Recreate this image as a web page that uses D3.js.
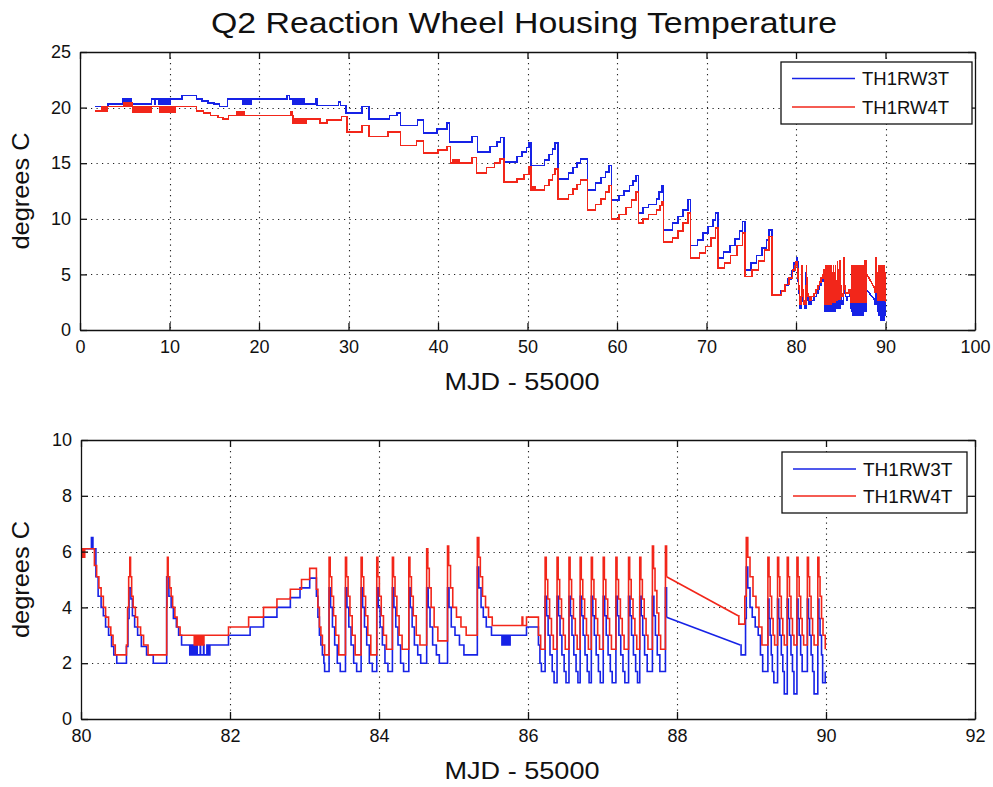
<!DOCTYPE html>
<html><head><meta charset="utf-8">
<script src="https://cdn.jsdelivr.net/npm/d3@7"></script>
<style>
body{margin:0;background:#fff;}
svg{display:block;}
text{font-family:"Liberation Sans",Arial,Helvetica,sans-serif;fill:#111;}
</style>
</head><body>
<svg id="chart" width="993" height="787"></svg>
<script>
// ---------------- data ----------------
const titleText = "Q2 Reaction Wheel Housing Temperature";
const xLabelText = "MJD - 55000";
const yLabelText = "degrees C";
const seriesNames = ["TH1RW3T", "TH1RW4T"];
const seriesColors = ["#1622e6", "#f2261a"];

const topXTicks = [0, 10, 20, 30, 40, 50, 60, 70, 80, 90, 100];
const topYTicks = [0, 5, 10, 15, 20, 25];
const botXTicks = [80, 82, 84, 86, 88, 90, 92];
const botYTicks = [0, 2, 4, 6, 8, 10];

// TH1RW3T, days 1.7 - 80 (sample held until next sample)
const rw3Early = [
[1.7,20.1],[3.1,20.3],[4.8,20.8],[4.9,20.3],[5.0,20.8],[5.1,20.3],[5.2,20.8],[5.3,20.3],[5.4,20.8],[5.5,20.3],[5.6,20.8],[5.7,20.3],
[8.0,20.8],[8.4,20.3],[8.45,20.8],[8.8,20.3],[8.85,20.8],[8.95,20.3],[9.05,20.8],[9.15,20.3],[9.25,20.8],[9.35,20.3],[9.45,20.8],[9.55,20.3],[9.65,20.8],[9.75,20.3],[9.85,20.8],[9.95,20.3],[10.05,20.8],
[11.4,21.1],[13.0,20.8],[13.6,20.6],[14.3,20.4],[15.0,20.3],[15.6,20.1],[16.5,20.8],
[18.2,20.3],[18.3,20.8],[18.4,20.3],[18.5,20.8],[18.6,20.3],[18.7,20.8],[18.8,20.3],[18.9,20.8],[19.0,20.3],[19.1,20.8],
[23.1,21.1],[23.4,20.8],[23.8,20.3],[23.9,20.8],[24.0,20.3],[24.1,20.8],[24.2,20.3],[24.3,20.8],[24.4,20.3],[24.5,20.8],[24.6,20.3],[24.7,20.8],[24.8,20.3],[24.9,20.8],[25.0,20.3],
[26.4,20.8],[26.5,20.2],[28.9,20.5],[29.1,20.2],[29.7,19.5],[31.5,20.1],[32.3,19.0],[34.6,19.3],[35.4,19.5],[35.8,18.4],[37.7,18.9],[38.4,17.7],[39.9,18.1],[41.0,18.6],[41.3,16.9],[43.8,17.4],[44.4,16.0],[45.8,16.5],[46.6,16.9],[47.0,17.3],
[47.4,15.1],[48.8,15.6],[49.4,16.0],[49.9,16.4],[50.2,16.8],[50.4,14.8],[51.9,15.3],[52.4,15.8],[52.8,16.3],[53.1,16.8],[53.4,13.6],[54.6,14.1],[55.1,14.6],[55.5,15.0],[55.9,15.4],
[56.7,12.6],[57.6,13.2],[58.2,13.7],[58.7,14.2],[59.1,14.8],[59.4,11.7],[60.2,12.1],[60.8,12.5],[61.4,13.0],[61.8,13.4],[62.1,13.9],[62.4,10.5],[62.9,11.0],[63.5,11.3],[64.4,11.8],[64.7,12.4],[65.0,13.0],
[65.2,9.0],[66.2,9.6],[66.8,10.2],[67.4,10.8],[67.9,11.75],[68.2,7.6],[69.0,8.1],[69.6,8.7],[70.2,9.3],[70.7,9.9],[71.0,10.5],[71.3,6.45],[71.9,7.0],[72.6,7.6],[73.2,8.2],[73.7,8.9],[74.0,9.75],
[74.3,5.4],[75.0,6.0],[75.6,6.7],[76.2,7.4],[76.7,8.1],[77.0,9.0],[77.3,3.15],[78.3,3.5],[78.7,4.0],[79.1,4.6],[79.5,5.3],[79.8,6.0]
];
// TH1RW3T, days 80 - 87.86
const rw3Late = [
[80.00,6.1],[80.14,6.5],[80.16,6.1],[80.20,5.1],[80.23,4.4],[80.27,4.0],[80.30,3.7],[80.33,3.3],[80.37,3.0],[80.41,2.6],[80.44,2.3],[80.48,2.0],
[80.61,2.6],[80.63,3.6],[80.645,4.7],[80.67,4.3],[80.69,3.7],[80.72,3.3],[80.76,3.0],[80.81,2.6],[80.88,2.3],[80.97,2.0],
[81.15,5.1],[81.18,4.4],[81.21,4.0],[81.24,3.6],[81.28,3.3],[81.31,3.0],[81.35,2.65],
[81.46,2.3],[81.47,2.65],[81.48,2.3],[81.49,2.65],[81.50,2.3],[81.51,2.65],[81.52,2.3],[81.53,2.65],[81.54,2.3],[81.55,2.65],[81.56,2.3],
[81.60,2.65],[81.605,2.3],[81.645,2.65],[81.65,2.3],[81.69,2.65],[81.70,2.3],[81.71,2.65],[81.72,2.3],
[81.73,2.65],[81.98,3.0],[82.27,3.3],[82.45,3.65],[82.63,4.0],[82.81,4.35],[82.94,4.7],[83.07,5.05],
[83.16,4.4],[83.18,3.65],[83.20,3.0],[83.22,2.65],[83.24,2.3],[83.26,2.0],[83.27,1.7],
[83.33,4.7],[83.35,4.0],[83.375,3.3],[83.405,2.65],[83.44,2.0],[83.48,1.7],
[83.55,4.7],[83.57,4.0],[83.595,3.3],[83.625,2.65],[83.66,2.0],[83.70,1.7],
[83.76,4.7],[83.78,4.0],[83.805,3.3],[83.835,2.65],[83.87,2.0],[83.91,1.7],
[83.97,4.7],[83.99,4.0],[84.015,3.3],[84.045,2.65],[84.08,2.0],[84.12,1.7],
[84.18,4.7],[84.20,4.0],[84.225,3.3],[84.255,2.65],[84.29,2.0],[84.33,1.7],
[84.40,4.7],[84.42,4.0],[84.445,3.3],[84.475,2.65],[84.52,2.3],[84.56,2.0],
[84.64,4.7],[84.66,4.0],[84.685,3.3],[84.72,2.65],[84.77,2.3],[84.81,2.0],
[84.92,4.7],[84.94,4.0],[84.97,3.3],[85.02,3.0],[85.08,2.65],[85.14,2.3],
[85.32,5.45],[85.34,4.7],[85.37,4.0],[85.40,3.65],[85.44,3.3],[85.51,3.0],
[85.65,2.65],[85.66,3.0],[85.67,2.65],[85.68,3.0],[85.69,2.65],[85.70,3.0],[85.71,2.65],[85.72,3.0],[85.73,2.65],[85.74,3.0],[85.75,2.65],[85.76,3.0],
[85.98,3.3],[86.14,2.65],[86.16,2.0],[86.18,1.7],
[86.23,4.4],[86.25,3.7],[86.27,3.0],[86.295,2.3],[86.325,1.7],[86.35,1.3],
[86.39,4.4],[86.41,3.7],[86.43,3.0],[86.455,2.3],[86.485,1.7],[86.51,1.3],
[86.55,4.4],[86.57,3.7],[86.59,3.0],[86.615,2.3],[86.645,1.7],[86.67,1.3],
[86.70,4.4],[86.72,3.7],[86.74,3.0],[86.765,2.3],[86.795,1.7],[86.82,1.3],
[86.85,4.4],[86.87,3.7],[86.89,3.0],[86.915,2.3],[86.945,1.7],[86.97,1.3],
[87.01,4.4],[87.03,3.7],[87.05,3.0],[87.075,2.3],[87.105,1.7],[87.13,1.3],
[87.18,4.4],[87.20,3.7],[87.22,3.0],[87.245,2.3],[87.275,1.7],[87.30,1.3],
[87.35,4.4],[87.37,3.7],[87.39,3.0],[87.415,2.3],[87.445,1.7],[87.47,1.3],
[87.50,4.4],[87.52,3.7],[87.54,3.0],[87.565,2.3],[87.60,1.7],
[87.67,4.4],[87.69,3.7],[87.71,3.0],[87.735,2.3],[87.77,1.7],
[87.845,4.7],[87.86,3.65]
];
// TH1RW3T after the data gap, days 88.85 - 90
const rw3Resume = [
[88.85,2.65],[88.86,2.3],[88.92,3.6],[88.93,5.45],[88.95,4.7],[88.98,4.0],[89.01,3.65],[89.05,3.3],[89.09,3.0],[89.12,2.3],[89.15,1.7],
[89.22,4.3],[89.235,3.6],[89.25,3.0],[89.265,2.3],[89.28,1.7],[89.30,1.3],
[89.35,4.3],[89.365,3.6],[89.38,3.0],[89.40,2.3],[89.42,1.7],[89.44,0.9],
[89.48,4.3],[89.495,3.6],[89.51,3.0],[89.53,2.3],[89.55,1.7],[89.57,0.9],
[89.61,4.3],[89.625,3.6],[89.64,3.0],[89.66,2.3],[89.68,1.7],[89.71,1.7],
[89.75,4.3],[89.765,3.6],[89.78,3.0],[89.80,2.3],[89.82,1.7],[89.84,0.9],
[89.89,4.3],[89.905,3.6],[89.92,3.0],[89.94,2.3],[89.955,1.3],[89.99,1.7]
];

// TH1RW4T, days 1.7 - 80
const rw4Early = [
[1.7,19.7],[2.4,20.1],[2.5,19.7],[2.6,20.1],[2.7,19.7],[2.8,20.1],[2.9,19.7],[3.0,20.1],
[4.9,20.4],[5.0,20.1],[5.1,20.4],[5.2,20.1],[5.3,20.4],[5.4,20.1],[5.5,20.4],[5.6,20.1],[5.7,20.4],
[5.8,20.1],[5.9,19.6],[6.0,20.1],[6.1,19.6],[6.2,20.1],[6.3,19.6],[6.4,20.1],[6.5,19.6],[6.6,20.1],[6.7,19.6],[6.8,20.1],[6.9,19.6],[7.0,20.1],[7.1,19.6],[7.2,20.1],[7.3,19.6],[7.4,20.1],[7.5,19.6],[7.6,20.1],[7.7,19.6],[7.8,20.1],[7.9,19.6],
[8.0,20.1],[8.9,19.6],[9.0,20.1],[9.1,19.6],[9.2,20.1],[9.3,19.6],[9.4,20.1],[9.5,19.6],[9.6,20.1],[9.7,19.6],[9.8,20.1],[9.9,19.6],[10.0,20.1],[10.1,19.6],[10.2,20.1],[10.3,19.6],[10.4,20.1],[10.5,19.6],
[10.6,20.1],[13.0,19.7],[13.8,19.5],[14.6,19.3],[15.4,19.1],[16.0,19.0],[16.6,19.3],
[17.5,19.6],[17.6,19.3],[17.7,19.6],[17.8,19.3],[17.9,19.6],[18.0,19.3],[18.1,19.6],[18.2,19.3],[18.3,19.6],
[18.4,19.3],[23.5,19.6],[23.7,19.3],
[23.8,18.6],[23.9,19.0],[24.0,18.6],[24.1,19.0],[24.2,18.6],[24.3,19.0],[24.4,18.6],[24.5,19.0],[24.6,18.6],[24.7,19.0],[24.8,18.6],[24.9,19.0],[25.0,18.6],[25.1,19.0],[25.2,18.6],
[25.3,19.0],[26.8,18.6],[27.6,18.9],[29.2,19.2],[29.8,17.8],[31.5,18.4],[32.3,17.4],[34.4,17.8],[35.8,16.6],[37.6,17.0],[38.4,15.9],[40.0,16.2],[41.0,16.5],[41.4,15.0],
[41.7,15.3],[41.8,15.0],[41.9,15.3],[42.0,15.0],[42.1,15.3],[42.2,15.0],[42.3,15.3],[42.4,15.0],
[43.8,15.5],[44.3,14.1],[45.4,14.6],[46.3,15.0],[46.9,15.4],
[47.4,13.3],[48.8,13.6],[49.6,14.0],[50.2,14.7],[50.4,12.6],
[50.6,12.9],[50.65,12.6],[50.7,12.9],[50.75,12.6],[50.8,12.9],[50.85,12.6],
[51.9,13.0],[52.4,13.5],[52.8,14.0],[53.1,14.5],[53.4,11.8],[54.6,12.2],[55.1,12.7],[55.5,13.1],[55.9,13.5],[56.7,10.8],[57.6,11.3],[58.2,11.8],[58.7,12.4],[59.1,13.0],
[59.4,10.0],[60.2,10.4],[61.0,11.0],[61.6,11.7],[62.1,12.4],[62.4,9.6],[62.9,10.0],[63.5,10.4],[64.4,10.8],[64.8,11.2],[65.0,11.5],
[65.2,7.9],[66.2,8.3],[66.8,8.9],[67.4,9.6],[67.9,10.5],[68.2,6.45],[69.2,6.9],[69.9,7.5],[70.5,8.3],[71.0,9.15],[71.3,5.55],[72.0,6.0],[72.7,6.7],[73.4,7.6],[74.0,8.7],
[74.3,4.8],[75.1,5.4],[75.8,6.2],[76.5,7.2],[77.0,8.4],[77.3,3.15],[78.4,3.5],[78.8,4.1],[79.2,4.7],[79.6,5.4],[79.9,5.8]
];
// TH1RW4T, days 80 - 87.86
const rw4Late = [
[80.00,5.8],[80.01,6.1],[80.02,5.8],[80.03,6.1],[80.04,5.8],[80.05,6.1],
[80.18,5.5],[80.21,5.1],[80.24,4.7],[80.27,4.4],[80.30,4.0],[80.33,3.65],[80.37,3.3],[80.40,3.0],[80.43,2.65],[80.46,2.3],
[80.61,2.65],[80.625,4.0],[80.64,5.1],[80.655,5.8],[80.665,5.1],[80.68,4.4],[80.70,4.0],[80.73,3.65],[80.76,3.3],[80.80,3.0],[80.84,2.65],[80.90,2.3],
[81.15,4.0],[81.155,5.1],[81.16,5.8],[81.17,5.1],[81.19,4.7],[81.21,4.4],[81.23,4.0],[81.26,3.65],[81.29,3.3],[81.33,3.0],
[81.52,2.65],[81.53,3.0],[81.54,2.65],[81.55,3.0],[81.56,2.65],[81.57,3.0],[81.58,2.65],[81.59,3.0],[81.60,2.65],[81.61,3.0],[81.62,2.65],[81.63,3.0],[81.64,2.65],[81.65,3.0],
[81.98,3.3],[82.25,3.65],[82.45,4.0],[82.63,4.3],[82.81,4.65],[82.96,5.0],[83.07,5.4],
[83.16,4.65],[83.18,4.0],[83.20,3.3],[83.22,3.0],[83.24,2.65],[83.27,2.3],
[83.33,5.8],[83.345,5.1],[83.365,4.4],[83.39,3.7],[83.42,3.0],[83.46,2.3],
[83.55,5.8],[83.565,5.1],[83.585,4.4],[83.61,3.7],[83.64,3.0],[83.68,2.3],
[83.76,5.8],[83.775,5.1],[83.795,4.4],[83.82,3.7],[83.85,3.0],[83.89,2.3],
[83.97,5.8],[83.985,5.1],[84.005,4.4],[84.03,3.7],[84.06,3.0],[84.10,2.5],
[84.18,5.8],[84.195,5.1],[84.215,4.4],[84.24,3.7],[84.27,3.0],[84.31,2.5],
[84.40,5.8],[84.415,5.1],[84.435,4.4],[84.46,3.7],[84.50,3.0],[84.55,2.65],
[84.64,6.1],[84.655,5.4],[84.675,4.7],[84.70,4.0],[84.74,3.3],[84.79,2.8],
[84.92,6.2],[84.935,5.5],[84.96,4.7],[84.99,4.0],[85.04,3.65],[85.10,3.3],[85.17,3.0],
[85.32,6.5],[85.34,5.8],[85.36,5.1],[85.39,4.4],[85.43,4.0],[85.47,3.65],[85.52,3.35],
[85.92,3.65],[85.93,3.35],[85.98,3.65],[86.14,3.0],[86.17,2.5],
[86.23,5.8],[86.245,5.0],[86.265,4.3],[86.29,3.6],[86.315,3.0],[86.34,2.5],
[86.39,5.8],[86.405,5.0],[86.425,4.3],[86.45,3.6],[86.475,3.0],[86.50,2.5],
[86.55,5.8],[86.565,5.0],[86.585,4.3],[86.61,3.6],[86.635,3.0],[86.66,2.5],
[86.70,5.8],[86.715,5.0],[86.735,4.3],[86.76,3.6],[86.785,3.0],[86.81,2.5],
[86.85,5.8],[86.865,5.0],[86.885,4.3],[86.91,3.6],[86.935,3.0],[86.96,2.5],
[87.01,5.8],[87.025,5.0],[87.045,4.3],[87.07,3.6],[87.095,3.0],[87.12,2.5],
[87.18,5.8],[87.195,5.0],[87.215,4.3],[87.24,3.6],[87.265,3.0],[87.29,2.5],
[87.35,5.8],[87.365,5.0],[87.385,4.3],[87.41,3.6],[87.435,3.0],[87.46,2.5],
[87.50,5.8],[87.515,5.0],[87.535,4.3],[87.56,3.6],[87.585,3.0],[87.61,2.5],
[87.67,6.2],[87.685,5.4],[87.705,4.6],[87.73,3.8],[87.755,3.0],[87.78,2.5],
[87.845,6.2],[87.86,5.1]
];
// TH1RW4T after the data gap, days 88.82 - 90
const rw4Resume = [
[88.82,3.7],[88.83,3.4],[88.91,4.4],[88.93,6.5],[88.95,5.8],[88.98,5.1],[89.02,4.4],[89.06,4.0],[89.10,3.3],[89.14,2.65],
[89.22,5.8],[89.235,5.1],[89.25,4.4],[89.27,3.6],[89.29,3.0],[89.31,2.65],
[89.35,5.8],[89.365,5.1],[89.38,4.4],[89.40,3.6],[89.42,3.0],[89.44,2.65],
[89.48,5.8],[89.495,5.1],[89.51,4.4],[89.53,3.6],[89.55,3.0],[89.57,2.65],
[89.61,5.8],[89.625,5.1],[89.64,4.4],[89.66,3.6],[89.68,3.0],[89.70,2.65],
[89.75,5.8],[89.765,5.1],[89.78,4.4],[89.80,3.6],[89.82,3.0],[89.84,2.65],
[89.89,5.8],[89.905,5.1],[89.92,4.4],[89.94,3.6],[89.96,3.0],[89.99,2.5]
];

// ---------------- drawing ----------------
const svg = d3.select("#chart");
svg.append("rect").attr("width", 993).attr("height", 787).attr("fill", "#fff");

const seriesSets = [
  { before: rw3Early.concat(rw3Late), after: rw3Resume, color: seriesColors[0] },
  { before: rw4Early.concat(rw4Late), after: rw4Resume, color: seriesColors[1] }
];

svg.append("text")
  .attr("x", 524).attr("y", 33)
  .attr("text-anchor", "middle")
  .attr("font-size", 29)
  .attr("textLength", 626).attr("lengthAdjust", "spacingAndGlyphs")
  .text(titleText);

function panel(cfg, idx) {
  const x = d3.scaleLinear().domain(cfg.xd).range([cfg.l, cfg.r]);
  const y = d3.scaleLinear().domain(cfg.yd).range([cfg.b, cfg.t]);
  const g = svg.append("g");
  const clipId = "clip" + idx;
  svg.append("clipPath").attr("id", clipId).append("rect")
    .attr("x", cfg.l).attr("y", cfg.t).attr("width", cfg.r - cfg.l).attr("height", cfg.b - cfg.t);

  // grid
  const grid = g.append("g").attr("stroke", "#222").attr("stroke-width", 1.1).attr("stroke-dasharray", "1.2,4.3");
  cfg.xt.slice(1, -1).forEach(v => grid.append("line")
    .attr("x1", Math.round(x(v)) + 0.5).attr("x2", Math.round(x(v)) + 0.5).attr("y1", cfg.t).attr("y2", cfg.b));
  cfg.yt.slice(1, -1).forEach(v => grid.append("line")
    .attr("y1", Math.round(y(v)) + 0.5).attr("y2", Math.round(y(v)) + 0.5).attr("x1", cfg.l).attr("x2", cfg.r));

  // data
  const data = g.append("g").attr("clip-path", `url(#${clipId})`);
  const stepLine = d3.line().x(d => x(d[0])).y(d => y(d[1])).curve(d3.curveStepAfter);
  const straight = d3.line().x(d => x(d[0])).y(d => y(d[1]));
  seriesSets.forEach(s => {
    const a = s.before, b = s.after;
    [stepLine(a), straight([a[a.length - 1], b[0]]), stepLine(b)].forEach(d => {
      data.append("path").attr("d", d).attr("fill", "none").attr("stroke", s.color)
        .attr("stroke-width", cfg.lw).attr("shape-rendering", cfg.crisp ? "crispEdges" : "auto");
    });
  });

  // axes (box with inward ticks)
  const axes = [
    d3.axisBottom(x).tickValues(cfg.xt).tickSize(-7).tickSizeOuter(0).tickPadding(10),
    d3.axisTop(x).tickValues(cfg.xt).tickSize(-7).tickSizeOuter(0).tickFormat(""),
    d3.axisLeft(y).tickValues(cfg.yt).tickSize(-7).tickSizeOuter(0).tickPadding(9),
    d3.axisRight(y).tickValues(cfg.yt).tickSize(-7).tickSizeOuter(0).tickFormat("")
  ];
  const pos = [`translate(0,${cfg.b})`, `translate(0,${cfg.t})`, `translate(${cfg.l},0)`, `translate(${cfg.r},0)`];
  axes.forEach((ax, i) => {
    const ag = g.append("g").attr("transform", pos[i]).call(ax);
    ag.selectAll("path,line").attr("stroke", "#111").attr("stroke-width", 1.3);
    ag.selectAll("text").attr("font-size", 18).attr("fill", "#111")
      .attr("font-family", '"Liberation Sans",Arial,sans-serif');
  });

  // axis labels
  svg.append("text").attr("x", 522).attr("y", cfg.b + 60)
    .attr("text-anchor", "middle").attr("font-size", 24)
    .attr("textLength", 155).attr("lengthAdjust", "spacingAndGlyphs")
    .text(xLabelText);
  svg.append("text").attr("transform", `translate(29,${(cfg.t + cfg.b) / 2}) rotate(-90)`)
    .attr("text-anchor", "middle").attr("font-size", 24)
    .attr("textLength", 117).attr("lengthAdjust", "spacingAndGlyphs")
    .text(yLabelText);

  // legend
  const L = cfg.legend;
  const lg = svg.append("g");
  lg.append("rect").attr("x", L.x).attr("y", L.y).attr("width", L.w).attr("height", L.h)
    .attr("fill", "#fff").attr("stroke", "#111").attr("stroke-width", 1.3);
  seriesNames.forEach((name, i) => {
    const ry = L.y + L.row0 + i * L.gap;
    lg.append("line").attr("x1", L.x + 11).attr("x2", L.x + 74).attr("y1", ry).attr("y2", ry)
      .attr("stroke", seriesColors[i]).attr("stroke-width", 1.5);
    lg.append("text").attr("x", L.x + 81).attr("y", ry).attr("dy", "0.36em")
      .attr("font-size", L.fs).text(name);
  });
}

panel({ xd: [0, 100], yd: [0, 25], l: 80, r: 975, t: 52, b: 330, xt: topXTicks, yt: topYTicks, lw: 1.6, crisp: true,
        legend: { x: 781, y: 62, w: 191, h: 62, row0: 16.5, gap: 28.5, fs: 18.5 } }, 0);
panel({ xd: [80, 92], yd: [0, 10], l: 81, r: 975, t: 440, b: 719, xt: botXTicks, yt: botYTicks, lw: 1.6, crisp: false,
        legend: { x: 782, y: 452, w: 185, h: 61, row0: 17, gap: 27, fs: 19 } }, 1);
</script>
</body></html>
